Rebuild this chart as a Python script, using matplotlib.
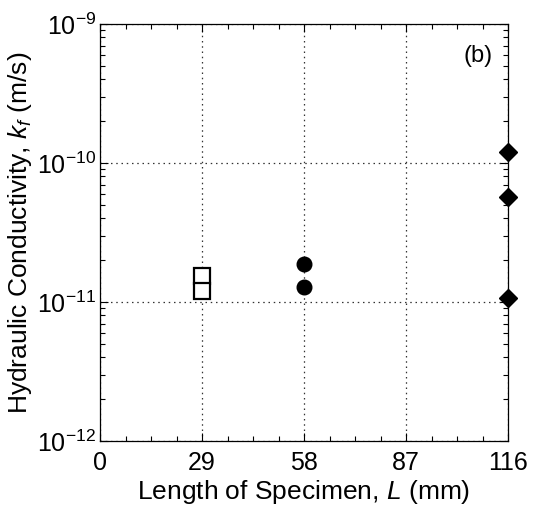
import matplotlib
matplotlib.use("Agg")
import matplotlib.pyplot as plt
from matplotlib.ticker import MultipleLocator, LogLocator, NullFormatter

plt.rcParams["font.family"] = ["Liberation Sans", "DejaVu Sans"]
plt.rcParams["mathtext.fontset"] = "custom"
plt.rcParams["mathtext.rm"] = "Liberation Sans"
plt.rcParams["mathtext.it"] = "Liberation Sans:italic"
plt.rcParams["axes.unicode_minus"] = False

# specimen lengths (mm) and measured hydraulic conductivity (m/s)
len_29 = [29, 29]
k_29 = [1.55e-11, 1.19e-11]
len_58 = [58, 58]
k_58 = [1.89e-11, 1.29e-11]
len_116 = [116, 116, 116]
k_116 = [1.19e-10, 5.7e-11, 1.07e-11]
x_ticks = [0, 29, 58, 87, 116]

fig = plt.figure(figsize=(5.35, 5.2), dpi=100)
ax = fig.add_axes([100 / 535, 79 / 520, 408 / 535, 417 / 520])

ax.plot(len_29, k_29, ls="none", marker="s", ms=12, mfc="white", mec="black", mew=1.6, clip_on=False, zorder=3)
ax.plot(len_58, k_58, ls="none", marker="o", ms=10.5, mfc="black", mec="black", clip_on=False, zorder=3)
ax.plot(len_116, k_116, ls="none", marker="D", ms=9.5, mfc="black", mec="black", clip_on=False, zorder=3)

ax.set_yscale("log")
ax.set_xlim(0, 116)
ax.set_ylim(1e-12, 1e-9)
ax.set_xticks(x_ticks)
ax.xaxis.set_minor_locator(MultipleLocator(7.25))
ax.yaxis.set_major_locator(LogLocator(base=10, numticks=10))
ax.yaxis.set_minor_locator(LogLocator(base=10, subs=range(2, 10), numticks=20))
ax.yaxis.set_minor_formatter(NullFormatter())

ax.tick_params(which="both", direction="in", top=True, right=True, labelsize=18)
ax.tick_params(axis="x", which="major", pad=7)
ax.tick_params(axis="y", which="major", pad=3)
ax.tick_params(which="major", length=6, width=0.8)
ax.tick_params(which="minor", length=3.5, width=0.8)
ax.grid(True, which="major", ls=(0, (1.2, 3)), color="#333333", lw=0.9)
for s in ax.spines.values():
    s.set_linewidth(0.9)

ax.set_xlabel("Length of Specimen, $\\mathit{L}$ (mm)", fontsize=19, labelpad=2)
ax.set_ylabel("Hydraulic Conductivity, $\\mathit{k_f}$ (m/s)", fontsize=19, labelpad=2)
ax.text(0.963, 0.95, "(b)", transform=ax.transAxes, ha="right", va="top", fontsize=17)

fig.savefig("out.png", dpi=100)
